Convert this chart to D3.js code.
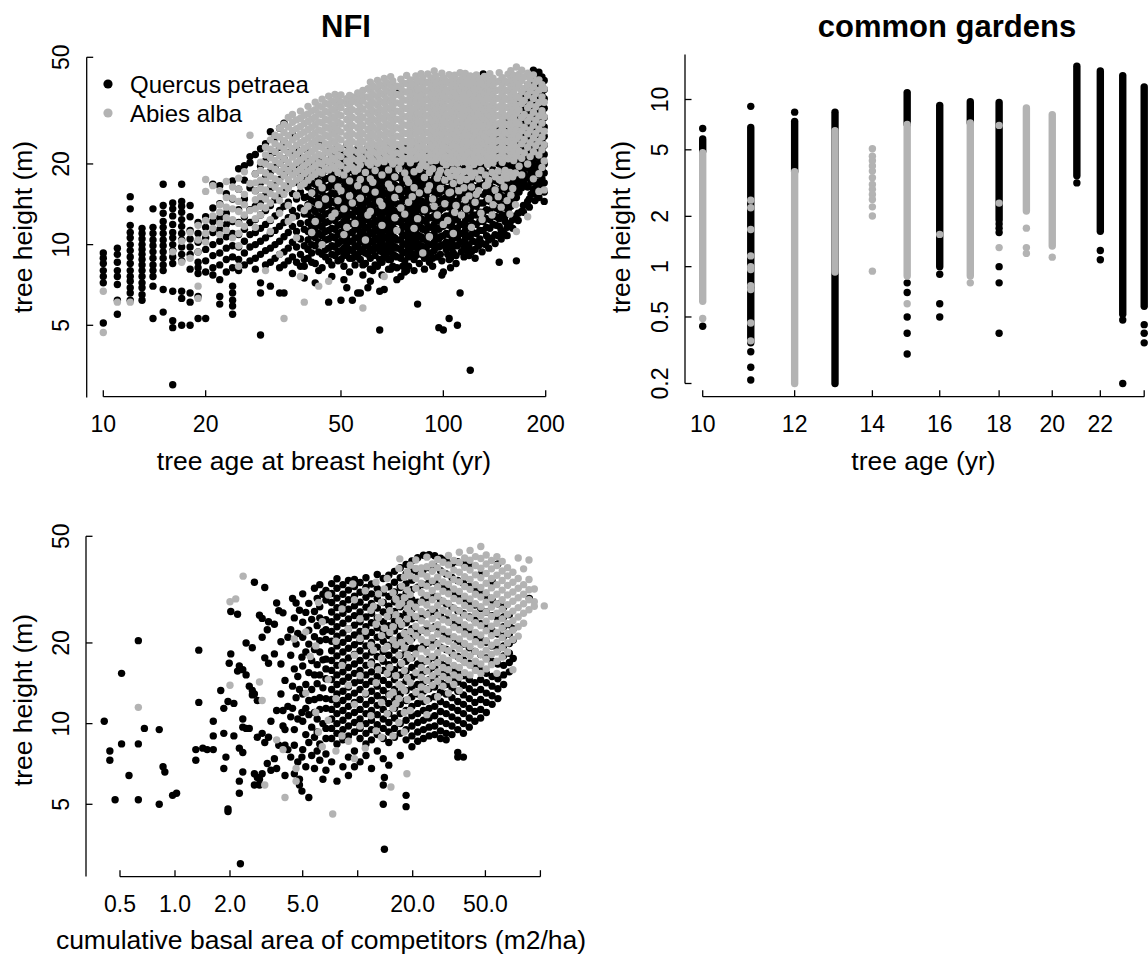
<!doctype html>
<html lang="en">

<head>
  <meta charset="UTF-8" />
  <script src="https://cdn.jsdelivr.net/npm/d3@7"></script>
  <style>
    body { margin: 0; background: #fff; }
    text { font-family: "Liberation Sans", Arial, Helvetica, sans-serif; fill: #000; }
    .axis-line { stroke: #000; stroke-width: 1.3; fill: none; }
    .tick-label { font-size: 23px; text-anchor: middle; }
    .axis-title { font-size: 26.5px; text-anchor: middle; }
    .main-title { font-size: 31px; font-weight: bold; text-anchor: middle; }
  </style>
  <title>tree height</title>
</head>

<body>
  <script>
    // ---- NFI, height vs age: [age, [heights...]] ----
    var nfiQuercusByAge = [
      [10, [9.3, 8.9, 8.5, 8.0, 7.6, 7.2, 5.1]],
      [11, [9.7, 9.2, 8.6, 8.0, 7.6, 7.1, 6.2, 5.5]],
      [12, [15.1, 13.6, 11.8, 11.1, 10.6, 10.0, 9.5, 9.0, 8.5, 8.0, 7.6, 7.3, 6.9, 6.6, 6.2]],
      [13, [11.5, 11.0, 10.5, 10.0, 9.6, 9.2, 8.8, 8.4, 8.0, 7.6, 7.2, 6.9, 6.5, 6.2]],
      [14, [13.6, 11.6, 11.0, 10.4, 9.9, 9.4, 8.9, 8.4, 8.0, 7.6, 7.0, 5.3]],
      [15, [16.8, 14.0, 13.1, 12.2, 11.6, 11.0, 10.4, 9.9, 9.4, 8.9, 8.4, 8.0, 6.8, 5.6]],
      [16, [14.3, 13.6, 12.8, 11.9, 11.1, 10.6, 10.0, 9.5, 9.0, 8.5, 6.7, 5.2, 4.9, 3.0]],
      [17, [16.8, 14.5, 13.9, 13.2, 12.4, 11.7, 11.0, 10.4, 9.8, 9.2, 8.7, 6.7, 6.3, 5.0]],
      [18, [14.0, 12.7, 11.3, 10.5, 9.8, 9.2, 8.1, 6.6, 6.1, 5.0]],
      [19, [12.1, 11.0, 10.2, 9.4, 8.6, 8.2, 7.8, 6.4, 5.3]],
      [20, [12.7, 11.6, 10.6, 9.6, 8.7, 7.9, 5.3]],
      [21, [16.8, 13.7, 12.2, 11.1, 10.0, 9.1, 8.2, 7.7]],
      [22, [16.6, 14.2, 12.6, 11.4, 10.3, 9.3, 8.4, 7.4, 6.4, 6.0]],
      [23, [15.5, 13.1, 11.9, 10.7, 9.7, 8.8, 7.9]],
      [24, [17.3, 14.8, 12.2, 11.0, 9.9, 9.0, 8.2, 7.0, 6.6, 6.2, 5.9, 5.5]],
      [25, [19.2, 16.1, 13.5, 12.1, 10.9, 9.8, 8.8, 8.0]],
      [26, [19.7, 17.4, 14.8, 12.7, 11.4, 10.3, 9.3, 8.4]],
      [27, [21.3, 20.2, 16.3, 13.5, 12.1, 10.9, 9.8, 8.7]],
      [28, [21.7, 18.4, 15.9, 13.9, 12.4, 11.1, 10.0, 8.9, 8.1]],
      [29, [22.8, 19.6, 17.0, 14.5, 12.9, 11.5, 10.3, 9.2, 7.2, 6.6, 4.6]],
      [30, [23.8, 20.5, 17.8, 15.3, 13.4, 11.9, 10.6, 9.5, 8.4]],
      [31, [26.4, 21.4, 18.7, 16.2, 14.0, 12.3, 11.0, 9.7, 8.6, 7.0]],
      [32, [25.1, 22.1, 19.4, 16.9, 14.7, 12.8, 11.3, 10.0, 8.9]],
      [33, [27.2, 23.1, 20.1, 17.5, 15.3, 13.4, 11.7, 10.3, 9.2, 8.2, 6.6]],
      [34, [28.4, 24.2, 20.9, 18.2, 15.9, 13.9, 12.1, 10.7, 9.4, 8.4, 6.6]],
      [35, [22.1, 19.1, 16.6, 14.4, 12.6, 11.1, 9.7, 8.7]],
      [36, [25.8, 21.4, 18.3, 15.5, 13.4, 11.7, 10.2, 9.0, 7.8]],
      [37, [23.0, 19.9, 17.1, 14.8, 12.8, 11.2, 9.8, 8.6]],
      [38, [21.1, 18.1, 15.7, 13.7, 12.0, 10.5, 9.2, 8.3]],
      [39, [20.0, 17.4, 15.0, 13.0, 11.4, 9.9, 8.8, 8.3, 7.5]],
      [40, [22.3, 20.5, 19.1, 17.6, 16.4, 15.1, 14.1, 13.0, 12.1, 11.2, 10.4, 9.6, 8.9]],
      [41, [19.8, 18.3, 17.0, 15.8, 14.6, 13.6, 12.6, 11.7, 10.8, 10.0, 9.3, 8.6]],
      [42, [21.0, 19.5, 18.0, 16.8, 15.5, 14.4, 13.3, 12.4, 11.5, 10.6, 9.9, 8.5, 7.2]],
      [43, [24.1, 20.2, 18.8, 17.3, 16.1, 14.9, 13.8, 12.8, 11.9, 11.0, 10.2, 9.4, 8.0]],
      [44, [21.4, 19.7, 18.3, 16.9, 15.7, 14.5, 13.5, 12.5, 11.6, 10.8, 10.0, 9.2, 8.2]],
      [45, [20.5, 19.0, 17.6, 16.3, 15.1, 14.0, 13.0, 12.1, 11.2, 10.4, 9.6, 9.0]],
      [46, [22.2, 20.6, 19.1, 17.7, 16.4, 15.2, 14.1, 13.1, 12.2, 11.3, 10.5, 9.7, 8.7, 6.1]],
      [47, [21.3, 19.6, 18.2, 16.9, 15.6, 14.5, 13.4, 12.4, 11.5, 10.7, 9.9, 9.2, 8.4, 7.6]],
      [48, [22.6, 20.9, 19.4, 17.9, 16.6, 15.4, 14.3, 13.3, 12.3, 11.4, 10.6, 9.8, 9.1]],
      [49, [20.1, 18.6, 17.3, 16.0, 14.8, 13.7, 12.7, 11.8, 10.9, 10.1, 9.4, 8.7]],
      [50, [21.8, 20.2, 18.7, 17.4, 16.1, 14.9, 13.9, 12.9, 11.9, 11.1, 10.3, 9.5, 8.8, 6.2]],
      [51, [20.8, 19.3, 17.9, 16.5, 15.3, 14.2, 13.2, 12.2, 11.3, 10.5, 9.7, 9.1, 8.3, 7.4]],
      [52, [23.6, 21.6, 20.0, 18.5, 17.1, 15.9, 14.7, 13.6, 12.6, 11.7, 10.8, 10.0, 9.3, 6.9]],
      [53, [20.6, 19.0, 17.6, 16.3, 15.1, 14.0, 13.0, 12.0, 11.1, 10.3, 9.6, 8.9, 7.9]],
      [54, [22.1, 20.5, 18.9, 17.5, 16.2, 15.0, 13.9, 12.9, 12.0, 11.1, 10.3, 9.5, 8.9, 6.2]],
      [55, [21.2, 19.6, 18.2, 16.8, 15.6, 14.4, 13.4, 12.4, 11.5, 10.6, 9.9, 9.2, 8.4]],
      [56, [22.8, 21.0, 19.5, 18.0, 16.7, 15.5, 14.3, 13.3, 12.3, 11.4, 10.6, 9.8, 9.0, 6.6]],
      [57, [20.3, 18.8, 17.4, 16.1, 14.9, 13.8, 12.8, 11.9, 11.0, 10.2, 9.4, 8.8, 6.6]],
      [58, [22.4, 20.7, 19.2, 17.7, 16.4, 15.2, 14.1, 13.1, 12.1, 11.2, 10.4, 9.6, 8.4, 7.7]],
      [59, [21.5, 19.9, 18.4, 17.1, 15.8, 14.6, 13.5, 12.5, 11.6, 10.8, 10.0, 9.3, 8.5]],
      [60, [23.0, 21.2, 19.6, 18.2, 16.8, 15.6, 14.4, 13.4, 12.4, 11.5, 10.7, 9.9, 9.2, 6.9]],
      [61, [20.5, 19.0, 17.6, 16.3, 15.1, 14.0, 13.0, 12.0, 11.1, 10.3, 9.6, 8.9, 8.1, 7.3]],
      [62, [22.0, 20.3, 18.8, 17.4, 16.1, 14.9, 13.8, 12.8, 11.9, 11.0, 10.2, 9.5, 8.0]],
      [63, [21.1, 19.5, 18.1, 16.7, 15.5, 14.3, 13.3, 12.3, 11.4, 10.6, 9.8, 9.1, 8.4]],
      [64, [22.7, 21.0, 19.4, 18.0, 16.6, 15.4, 14.3, 13.2, 12.2, 11.3, 10.5, 9.7, 8.3]],
      [65, [20.4, 18.9, 17.5, 16.2, 15.0, 13.9, 12.9, 11.9, 11.0, 10.2, 9.5, 8.8, 6.7, 4.8]],
      [66, [21.9, 20.2, 18.7, 17.3, 16.0, 14.8, 13.7, 12.7, 11.8, 10.9, 10.1, 9.4, 8.6, 7.7]],
      [67, [21.2, 19.6, 18.1, 16.8, 15.5, 14.4, 13.3, 12.3, 11.4, 10.6, 9.8, 9.0, 6.8]],
      [68, [23.0, 21.3, 19.7, 18.2, 16.9, 15.6, 14.5, 13.4, 12.4, 11.5, 10.7, 9.9, 9.2]],
      [69, [20.6, 19.1, 17.7, 16.4, 15.2, 14.1, 13.0, 12.1, 11.2, 10.4, 9.6, 8.8, 8.1]],
      [70, [22.2, 20.5, 19.0, 17.6, 16.3, 15.1, 14.0, 12.9, 12.0, 11.1, 10.3, 9.5, 8.8, 8.1]],
      [71, [21.4, 19.8, 18.3, 17.0, 15.7, 14.5, 13.5, 12.5, 11.6, 10.7, 9.9, 9.2, 8.3]],
      [72, [22.9, 21.1, 19.5, 18.1, 16.7, 15.5, 14.4, 13.3, 12.3, 11.4, 10.6, 9.8, 9.1]],
      [73, [20.8, 19.3, 17.8, 16.5, 15.3, 14.2, 13.1, 12.2, 11.3, 10.4, 9.7, 9.0, 8.2, 7.4]],
      [74, [37.5]],
      [75, [22.3, 20.6, 19.1, 17.7, 16.4, 15.2, 14.1, 13.0, 12.1, 11.2, 10.4, 9.6, 8.9, 7.6]],
      [76, [21.5, 19.9, 18.4, 17.0, 15.8, 14.6, 13.5, 12.5, 11.6, 10.8, 10.0, 9.3, 8.3]],
      [77, [8.7, 7.9]],
      [78, [23.6, 21.8, 20.2, 18.7, 17.3, 16.0, 14.8, 13.7, 12.7, 11.8, 10.9, 10.1, 9.4, 8.0]],
      [79, [21.0, 19.4, 18.0, 16.6, 15.4, 14.3, 13.2, 12.2, 11.3, 10.5, 9.7, 9.0, 8.3]],
      [80, [36.8, 22.5, 20.8, 19.2, 17.8, 16.5, 15.3, 14.1, 13.1, 12.1, 11.2, 10.4, 9.6]],
      [81, [21.6, 20.0, 18.5, 17.1, 15.8, 14.7, 13.6, 12.6, 11.6, 10.8, 10.0, 9.2]],
      [82, [8.8, 8.0]],
      [83, [22.8, 21.1, 19.5, 18.0, 16.7, 15.5, 14.3, 13.3, 12.3, 11.4, 10.5, 9.8, 9.1]],
      [84, [21.9, 20.3, 18.8, 17.4, 16.1, 14.9, 13.8, 12.7, 11.8, 10.9, 10.1, 9.4, 6.0]],
      [85, [8.5]],
      [86, [23.2, 21.5, 19.9, 18.4, 17.0, 15.8, 14.6, 13.5, 12.5, 11.6, 10.7, 9.9, 9.2]],
      [87, [21.1, 19.5, 18.1, 16.7, 15.5, 14.3, 13.3, 12.3, 11.4, 10.5, 9.8]],
      [88, [8.9, 8.1]],
      [89, [22.6, 20.9, 19.4, 17.9, 16.6, 15.4, 14.2, 13.2, 12.2, 11.3, 10.4, 9.7, 9.0]],
      [90, [21.7, 20.1, 18.6, 17.2, 15.9, 14.7, 13.6, 12.6, 11.7, 10.8, 10.0, 9.3]],
      [91, [8.6]],
      [92, [23.4, 21.6, 20.0, 18.5, 17.1, 15.9, 14.7, 13.6, 12.6, 11.6, 10.8, 10.0, 9.3]],
      [93, [8.9, 8.3]],
      [94, [22.1, 20.4, 18.9, 17.5, 16.2, 15.0, 13.9, 12.8, 11.9, 11.0, 10.2, 9.5]],
      [95, [21.3, 19.7, 18.2, 16.9, 15.6, 14.4, 13.4, 12.4, 11.5, 10.6, 9.8]],
      [96, [9.0]],
      [97, [22.9, 21.2, 19.6, 18.1, 16.8, 15.5, 14.4, 13.3, 12.3, 11.4, 10.5, 9.8, 4.9]],
      [98, [21.6, 20.0, 18.5, 17.1, 15.8, 14.6, 13.5, 12.5, 11.6, 10.7, 9.9, 9.2]],
      [99, [8.7, 7.7]],
      [100, [23.5, 21.8, 20.1, 18.6, 17.2, 15.9, 14.8, 13.7, 12.6, 11.7, 10.8, 10.0, 7.9, 4.8]],
      [102, [22.0, 20.4, 18.9, 17.5, 16.2, 15.0, 13.9, 12.8, 11.9, 11.0, 10.2, 9.6]],
      [103, [9.2]],
      [104, [23.8, 22.0, 20.3, 18.8, 17.4, 16.1, 14.9, 13.8, 12.8, 11.8, 10.9, 10.1, 8.8, 5.3]],
      [105, [8.9, 8.2]],
      [106, [22.6, 20.9, 19.3, 17.9, 16.5, 15.3, 14.2, 13.1, 12.1, 11.2, 10.4, 9.7]],
      [107, [9.3]],
      [108, [21.4, 19.8, 18.3, 17.0, 15.7, 14.5, 13.4, 12.4, 11.5, 10.6, 9.9]],
      [109, [9.1, 8.5]],
      [110, [23.1, 21.4, 19.8, 18.3, 16.9, 15.7, 14.5, 13.4, 12.4, 11.5, 10.6, 9.9, 5.0]],
      [112, [22.2, 20.5, 19.0, 17.6, 16.3, 15.0, 13.9, 12.9, 11.9, 11.0, 10.2, 6.6]],
      [113, [9.4]],
      [114, [24.0, 22.2, 20.5, 19.0, 17.6, 16.3, 15.1, 13.9, 12.9, 11.9, 11.0, 10.2]],
      [115, [9.7, 9.0]],
      [116, [22.8, 21.1, 19.5, 18.1, 16.7, 15.5, 14.3, 13.2, 12.2, 11.3, 10.5]],
      [117, [9.5]],
      [118, [21.7, 20.1, 18.6, 17.2, 15.9, 14.7, 13.6, 12.6, 11.7, 10.8, 10.0]],
      [119, [9.8, 9.1]],
      [120, [23.4, 21.6, 20.0, 18.5, 17.1, 15.8, 14.6, 13.5, 12.5, 11.6, 10.7, 3.4]],
      [121, [9.4]],
      [122, [40.5, 22.3, 20.6, 19.1, 17.7, 16.4, 15.1, 14.0, 12.9, 12.0, 11.1, 10.3]],
      [124, [9.6, 8.9]],
      [125, [24.1, 22.3, 20.6, 19.1, 17.6, 16.3, 15.1, 13.9, 12.9, 11.9, 11.0, 10.2]],
      [127, [9.9]],
      [128, [22.9, 21.2, 19.6, 18.1, 16.7, 15.5, 14.3, 13.2, 12.2, 11.3, 10.5]],
      [130, [10.1, 9.4]],
      [131, [43.3, 24.7, 22.8, 21.1, 19.5, 18.0, 16.7, 15.4, 14.3, 13.2, 12.2, 11.3]],
      [133, [10.0]],
      [134, [23.4, 21.6, 20.0, 18.5, 17.1, 15.8, 14.6, 13.5, 12.5, 11.6, 10.8]],
      [136, [10.4, 9.7]],
      [137, [25.2, 23.3, 21.5, 19.9, 18.4, 17.0, 15.7, 14.5, 13.4, 12.4, 11.5]],
      [139, [10.6]],
      [140, [26.8, 24.0, 22.2, 20.5, 19.0, 17.5, 16.2, 15.0, 13.9, 12.8, 11.9]],
      [142, [10.9, 10.1]],
      [143, [25.6, 23.7, 21.9, 20.2, 18.7, 17.3, 16.0, 14.8, 13.7, 12.7, 11.8]],
      [145, [10.8]],
      [146, [27.4, 25.3, 23.4, 21.6, 20.0, 18.5, 17.1, 15.8, 14.6, 13.5, 12.5, 11.7, 8.6]],
      [148, [11.3, 10.5]],
      [149, [26.2, 24.2, 22.4, 20.7, 19.1, 17.7, 16.3, 15.1, 14.0, 12.9]],
      [151, [11.0]],
      [152, [28.0, 25.9, 23.9, 22.1, 20.4, 18.9, 17.5, 16.1, 14.9, 13.8, 12.8, 12.2]],
      [154, [11.6, 10.8]],
      [155, [29.2, 27.0, 25.0, 23.1, 21.3, 19.7, 18.2, 16.8, 15.6, 14.4, 13.4]],
      [157, [12.0]],
      [158, [30.6, 28.2, 26.1, 24.1, 22.3, 20.6, 19.0, 17.6, 16.2, 15.0, 13.9]],
      [160, [12.4, 11.5]],
      [161, [31.6, 29.2, 27.0, 24.9, 23.0, 21.3, 19.7, 18.2, 16.8, 15.5, 14.3]],
      [163, [12.8]],
      [164, [33.0, 30.5, 28.2, 26.0, 24.0, 22.2, 20.5, 19.0, 17.5, 16.2, 15.0, 8.7]],
      [166, [13.1, 12.3]],
      [167, [34.5, 31.9, 29.5, 27.2, 25.2, 23.3, 21.5, 19.9, 18.4, 17.0, 15.7]],
      [170, [36.0, 33.3, 30.7, 28.4, 26.2, 24.2, 22.4, 20.7, 19.1, 17.6, 16.3, 13.3]],
      [172, [14.0, 13.2]],
      [173, [37.2, 34.3, 31.7, 29.3, 27.1, 25.0, 23.1, 21.4, 19.8, 18.3, 16.9]],
      [177, [39.4, 36.4, 33.6, 31.0, 28.7, 26.5, 24.5, 22.6, 20.9, 19.3, 17.8, 16.4, 14.5]],
      [179, [14.8, 13.8]],
      [181, [41.0, 37.8, 35.0, 32.3, 29.8, 27.5, 25.4, 23.5, 21.7, 20.1, 18.5, 17.1, 15.4]],
      [184, [44.8, 39.2, 36.2, 33.4, 30.9, 28.5, 26.3, 24.3, 22.5, 20.8, 19.2, 17.7, 16.1]],
      [186, [15.5, 14.6]],
      [188, [43.5, 40.2, 37.1, 34.3, 31.7, 29.3, 27.0, 25.0, 23.1, 21.3, 19.7, 18.2, 16.8]],
      [191, [44.0, 41.2, 38.0, 35.1, 32.4, 29.9, 27.6, 25.5, 23.6, 21.8, 20.1, 18.6, 17.1, 15.0]],
      [195, [42.2, 39.0, 36.0, 33.3, 30.7, 28.4, 26.2, 24.2, 22.4, 20.7, 19.1, 17.6, 16.2]],
      [198, [41.0, 37.9, 35.0, 32.3, 29.8, 27.5, 25.4, 23.5, 21.7, 20.0, 18.5, 17.0, 15.7, 14.5]]
    ];

    var nfiAbiesByAge = [
      [10, [6.7, 4.7]], [11, [6.1]], [12, [6.1]], [16, [9.4]], [17, [8.6, 10.3]],
      [18, [11.1, 8.9]], [19, [11.8, 10.4, 9.4, 7.0, 6.3]],
      [20, [17.5, 15.8, 12.3, 11.0, 10.2]],
      [21, [16.6, 12.8, 11.5]],
      [22, [15.9, 14.1, 13.2, 12.0, 10.9]],
      [23, [17.2, 15.0, 13.8, 12.6, 11.3]],
      [24, [16.4, 14.9, 13.6, 12.4, 10.6]],
      [25, [17.7, 16.1, 14.5, 13.3, 12.0, 11.0, 9.9, 8.3]],
      [26, [18.7, 15.4, 14.1, 12.9, 11.7]],
      [27, [25.6, 16.9, 13.4]],
      [28, [18.4, 17.0, 15.9, 14.7, 13.6, 12.5, 11.6]],
      [29, [20.3, 18.9, 17.4, 16.2, 15.1, 13.9, 12.9]],
      [30, [23.1, 21.6, 20.0, 18.5, 17.3, 16.0, 14.8, 13.7, 8.0]],
      [31, [24.6, 22.7, 21.1, 19.6, 18.0, 16.8, 15.5, 14.3, 12.4, 11.2]],
      [32, [25.6, 23.8, 22.2, 20.6, 19.1, 17.6, 16.4, 15.2]],
      [33, [27.2, 25.2, 23.3, 21.5, 20.1, 18.7, 17.2, 15.9, 14.6, 13.1, 9.2]],
      [34, [28.1, 26.2, 24.4, 22.6, 20.9, 19.4, 18.1, 16.6, 15.4, 5.3]],
      [35, [29.8, 27.5, 25.5, 23.7, 22.0, 20.3, 18.9, 17.5, 16.2, 14.0, 12.2]],
      [36, [30.6, 28.6, 26.6, 24.6, 22.8, 21.2, 19.6, 18.2, 16.9, 12.6]],
      [37, [29.2, 27.1, 25.2, 23.5, 21.7, 20.2, 18.7, 17.4, 15.3, 10.6]],
      [38, [31.5, 29.6, 27.6, 25.8, 24.0, 22.3, 20.7, 19.1, 17.8, 16.5, 7.6]],
      [39, [30.4, 28.3, 26.3, 24.5, 22.9, 21.2, 19.7, 18.4, 16.9, 13.4, 6.1]],
      [40, [32.8, 30.7, 28.8, 26.9, 25.0, 23.3, 21.7, 20.2, 18.8, 17.4, 13.9]],
      [41, [31.5, 29.4, 27.4, 25.6, 23.9, 22.2, 20.7, 19.2, 17.9, 15.6, 11.1]],
      [42, [34.0, 31.9, 29.9, 28.0, 26.1, 24.4, 22.8, 21.2, 19.7, 18.3, 12.2]],
      [43, [32.9, 30.8, 28.7, 26.8, 25.0, 23.3, 21.7, 20.2, 18.8, 17.0, 14.1, 7.0]],
      [44, [34.9, 32.6, 30.5, 28.5, 26.5, 24.8, 23.1, 21.5, 20.0, 18.5, 16.3, 10.0]],
      [45, [33.6, 31.4, 29.3, 27.4, 25.6, 23.8, 22.2, 20.7, 19.2, 14.8]],
      [46, [35.8, 33.4, 31.2, 29.1, 27.2, 25.3, 23.6, 22.0, 20.4, 19.0, 7.3]],
      [47, [34.4, 32.1, 30.0, 28.0, 26.2, 24.4, 22.7, 21.1, 19.6, 17.6, 12.7]],
      [48, [36.3, 33.9, 31.7, 29.6, 27.6, 25.8, 24.0, 22.4, 20.8, 19.3, 13.1]],
      [49, [35.1, 32.8, 30.6, 28.6, 26.7, 24.9, 23.2, 21.6, 20.1, 18.6, 16.4, 14.6]],
      [50, [36.2, 34.1, 32.4, 30.3, 28.2, 26.3, 24.6, 22.9, 21.3, 19.7, 15.9]],
      [51, [18.2, 13.6, 10.9]],
      [52, [35.0, 33.6, 31.4, 29.3, 27.3, 25.5, 23.8, 22.1, 20.5, 19.1, 11.6]],
      [53, [36.0, 34.4, 33.0, 30.8, 28.7, 26.8, 25.0, 23.3, 21.7, 20.1, 17.3, 15.2]],
      [54, [35.6, 34.2, 31.9, 29.8, 27.8, 25.9, 24.2, 22.5, 20.9, 19.4, 14.3]],
      [55, [18.8, 12.0]],
      [56, [36.8, 35.1, 33.7, 31.4, 29.3, 27.3, 25.5, 23.8, 22.1, 20.6, 19.1, 16.6]],
      [57, [36.3, 34.8, 32.5, 30.3, 28.3, 26.4, 24.6, 22.9, 21.3, 19.8, 17.5, 14.9]],
      [58, [37.6, 35.8, 34.3, 32.0, 29.8, 27.8, 25.9, 24.2, 22.5, 20.9, 5.8]],
      [59, [18.6, 16.1, 10.4]],
      [60, [38.2, 35.6, 33.2, 31.0, 28.9, 26.9, 25.1, 23.4, 21.8, 20.2, 12.9]],
      [61, [40.4, 37.6, 35.0, 32.6, 30.4, 28.4, 26.4, 24.6, 22.9, 21.3, 19.8, 17.6, 13.3]],
      [62, [39.0, 36.3, 33.9, 31.6, 29.4, 27.4, 25.6, 23.8, 22.2, 20.6, 17.1]],
      [63, [18.9, 15.7]],
      [64, [41.0, 38.2, 35.6, 33.2, 30.9, 28.8, 26.8, 25.0, 23.3, 21.7, 20.1]],
      [65, [39.6, 36.9, 34.4, 32.0, 29.9, 27.8, 25.9, 24.1, 22.5, 20.9, 14.5]],
      [66, [18.2, 14.0, 11.8]],
      [67, [41.7, 38.8, 36.2, 33.7, 31.4, 29.3, 27.3, 25.4, 23.6, 22.0, 20.4, 7.6]],
      [68, [40.2, 37.5, 34.9, 32.5, 30.3, 28.2, 26.3, 24.5, 22.8, 21.2]],
      [69, [19.0, 16.8]],
      [70, [42.3, 39.4, 36.7, 34.2, 31.9, 29.7, 27.7, 25.8, 24.0, 22.3, 20.7, 16.3]],
      [71, [40.8, 38.0, 35.4, 33.0, 30.7, 28.6, 26.7, 24.8, 23.1, 21.5, 20.0]],
      [72, [17.9, 15.0, 12.6]],
      [73, [39.0, 36.3, 33.8, 31.5, 29.4, 27.3, 25.4, 23.7, 22.0, 20.5, 11.3]],
      [74, [19.2, 16.1]],
      [75, [41.4, 38.6, 35.9, 33.5, 31.2, 29.0, 27.0, 25.2, 23.4, 21.8, 20.3, 13.7]],
      [76, [40.0, 37.3, 34.7, 32.3, 30.1, 28.0, 26.1, 24.3, 22.6, 21.0]],
      [77, [18.5, 13.0]],
      [78, [42.8, 39.9, 37.1, 34.6, 32.2, 30.0, 27.9, 26.0, 24.2, 22.5, 20.9, 17.6]],
      [79, [17.1, 14.4]],
      [80, [41.2, 38.4, 35.7, 33.3, 31.0, 28.9, 26.9, 25.0, 23.3, 21.7, 20.2]],
      [81, [39.6, 36.9, 34.4, 32.0, 29.8, 27.8, 25.9, 24.1, 22.4, 20.8, 15.1]],
      [82, [18.7, 16.3, 11.5]],
      [83, [42.6, 39.7, 37.0, 34.4, 32.0, 29.8, 27.8, 25.9, 24.1, 22.4, 20.9]],
      [84, [41.0, 38.2, 35.5, 33.1, 30.8, 28.7, 26.7, 24.8, 23.1, 21.5, 12.5]],
      [85, [19.1, 15.6]],
      [86, [43.4, 40.4, 37.6, 35.0, 32.6, 30.4, 28.3, 26.3, 24.5, 22.8, 21.2, 19.7]],
      [87, [41.8, 38.9, 36.2, 33.7, 31.4, 29.2, 27.2, 25.3, 23.6, 22.0, 20.4, 9.3]],
      [88, [17.8, 13.5]],
      [89, [40.2, 37.4, 34.8, 32.4, 30.2, 28.1, 26.2, 24.4, 22.7, 21.1, 19.6]],
      [90, [43.3, 40.3, 37.5, 35.0, 32.6, 30.3, 28.2, 26.3, 24.5, 22.8, 21.2, 16.0]],
      [91, [18.6, 16.6, 10.7]],
      [92, [41.9, 39.0, 36.3, 33.8, 31.5, 29.3, 27.3, 25.4, 23.6, 22.0, 20.5]],
      [93, [19.2, 14.8]],
      [94, [44.5, 40.6, 37.8, 35.2, 32.8, 30.5, 28.4, 26.4, 24.6, 22.9, 21.3, 13.9]],
      [95, [42.6, 39.3, 36.6, 34.0, 31.7, 29.5, 27.5, 25.6, 23.8, 22.2, 20.6]],
      [96, [17.7, 12.9]],
      [97, [41.0, 38.1, 35.5, 33.0, 30.7, 28.6, 26.6, 24.8, 23.1, 21.5, 18.3]],
      [98, [18.9, 16.2]],
      [99, [43.6, 40.1, 37.3, 34.7, 32.3, 30.1, 28.0, 26.1, 24.3, 22.6, 21.0]],
      [100, [42.0, 38.8, 36.1, 33.6, 31.3, 29.1, 27.1, 25.2, 23.5, 21.8, 20.3, 11.9]],
      [101, [17.4, 14.2]],
      [102, [40.6, 37.8, 35.2, 32.7, 30.5, 28.4, 26.4, 24.6, 22.9, 21.3, 19.8]],
      [103, [18.6, 12.3]],
      [104, [43.1, 40.0, 37.2, 34.6, 32.2, 30.0, 27.9, 26.0, 24.2, 22.5, 20.9, 15.6]],
      [105, [17.9, 15.7]],
      [106, [41.5, 38.6, 35.9, 33.4, 31.1, 28.9, 26.9, 25.1, 23.4, 21.7, 20.2]],
      [107, [19.0, 16.9, 11.0]],
      [108, [42.9, 39.6, 36.9, 34.3, 31.9, 29.7, 27.6, 25.7, 23.9, 22.3, 20.7, 13.2]],
      [109, [18.1, 14.0]],
      [110, [41.2, 38.3, 35.7, 33.2, 30.9, 28.7, 26.7, 24.9, 23.2, 21.6, 20.1]],
      [111, [18.9, 15.9]],
      [112, [43.8, 40.5, 37.7, 35.1, 32.6, 30.4, 28.3, 26.3, 24.5, 22.8, 21.2, 17.3]],
      [113, [17.8, 12.9]],
      [114, [42.0, 39.0, 36.3, 33.8, 31.4, 29.2, 27.2, 25.3, 23.6, 21.9, 20.4]],
      [115, [18.7, 16.3]],
      [116, [43.5, 40.2, 37.4, 34.8, 32.4, 30.1, 28.0, 26.1, 24.3, 22.6, 21.0, 14.7]],
      [117, [17.5, 13.6]],
      [118, [41.4, 38.5, 35.8, 33.3, 31.0, 28.9, 26.9, 25.0, 23.3, 21.7, 20.2]],
      [119, [19.2, 15.2]],
      [120, [42.6, 39.6, 36.8, 34.3, 31.9, 29.7, 27.6, 25.7, 23.9, 22.2, 20.7, 18.6]],
      [121, [17.9, 16.4, 11.6]],
      [123, [41.0, 38.1, 35.5, 33.0, 30.7, 28.6, 26.6, 24.7, 23.0, 21.4, 19.9]],
      [124, [18.5, 14.4]],
      [125, [43.0, 39.9, 37.1, 34.5, 32.1, 29.9, 27.8, 25.9, 24.1, 22.4, 20.8, 15.4]],
      [127, [17.6, 15.9]],
      [128, [41.6, 38.7, 36.0, 33.5, 31.2, 29.0, 27.0, 25.1, 23.4, 21.8, 20.3]],
      [129, [18.9, 13.1]],
      [130, [40.2, 37.4, 34.8, 32.4, 30.1, 28.0, 26.1, 24.3, 22.6, 21.0, 12.4]],
      [132, [42.4, 39.4, 36.7, 34.1, 31.7, 29.5, 27.5, 25.6, 23.8, 22.1, 20.6]],
      [133, [18.2, 16.6]],
      [135, [41.0, 38.1, 35.5, 33.0, 30.7, 28.6, 26.6, 24.7, 23.0, 21.4, 19.9, 16.8]],
      [136, [17.4, 14.8]],
      [137, [43.4, 40.3, 37.5, 34.9, 32.5, 30.2, 28.1, 26.1, 24.3, 22.6, 21.0]],
      [139, [18.6, 12.9]],
      [140, [41.8, 38.9, 36.2, 33.7, 31.3, 29.1, 27.1, 25.2, 23.4, 21.8, 20.2, 14.1]],
      [142, [17.9, 16.0]],
      [143, [40.4, 37.6, 35.0, 32.5, 30.2, 28.1, 26.1, 24.3, 22.6, 21.0]],
      [145, [18.8, 15.1]],
      [146, [43.8, 40.7, 37.8, 35.2, 32.7, 30.4, 28.3, 26.3, 24.5, 22.8, 21.2, 17.5]],
      [148, [17.3, 13.8]],
      [149, [42.0, 39.1, 36.4, 33.8, 31.4, 29.2, 27.2, 25.3, 23.5, 21.9, 20.3]],
      [151, [18.2, 16.4]],
      [152, [40.6, 37.7, 35.1, 32.6, 30.3, 28.2, 26.2, 24.4, 22.7, 21.1, 18.9]],
      [154, [17.7, 14.6]],
      [155, [43.2, 40.2, 37.4, 34.8, 32.4, 30.1, 28.0, 26.0, 24.2, 22.5, 20.9]],
      [157, [18.6, 13.0]],
      [158, [44.6, 41.6, 38.7, 36.0, 33.5, 31.1, 28.9, 26.9, 25.0, 23.2, 21.6, 15.3]],
      [160, [17.9, 16.2]],
      [161, [42.8, 39.8, 37.0, 34.4, 32.0, 29.8, 27.7, 25.7, 23.9, 22.2, 20.6]],
      [163, [18.5, 14.1]],
      [164, [46.0, 41.3, 38.4, 35.7, 33.2, 30.9, 28.7, 26.7, 24.8, 23.1, 21.4, 11.2]],
      [167, [43.2, 39.3, 35.4, 31.8, 28.2, 25.4, 22.3, 19.6]],
      [170, [44.8, 41.0, 37.2, 33.6, 29.8, 26.6, 23.8, 21.0, 18.2]],
      [173, [42.3, 38.3, 34.5, 30.6, 27.4, 24.7, 22.0]],
      [177, [43.6, 39.6, 36.1, 32.4, 28.9, 25.9, 23.1, 20.0, 12.7]],
      [180, [41.5, 37.5, 33.3, 29.9, 26.8, 24.0, 21.3]],
      [184, [43.0, 38.8, 35.1, 31.2, 27.9, 25.0, 22.2, 17.6]],
      [187, [40.6, 36.6, 32.7, 29.1, 26.0, 23.4]],
      [191, [41.2, 37.7, 33.9, 30.2, 27.0, 24.3, 21.6, 18.4, 15.8]],
      [195, [39.5, 35.6, 31.6, 28.4, 25.2, 22.6, 19.4]],
      [198, [38.2, 34.0, 30.0, 26.5, 23.6, 20.5, 16.0]]
    ];

    // ---- common gardens: dense columns [age, lowest, highest] and single trees [age, height] ----
    var gardenQuercusRanges = [
      [10, 4.9, 5.8], [11, 0.35, 6.8], [12, 3.7, 7.4], [13, 0.2, 8.4], [15, 7.1, 11.0],
      [16, 1.0, 9.2], [17, 7.25, 9.7], [18, 1.9, 9.6], [21, 3.5, 15.8], [22, 1.63, 14.8],
      [23, 0.52, 13.9], [24, 0.58, 11.9]
    ];
    var gardenQuercusTrees = [
      [10, 6.7], [10, 0.44], [11, 9.1], [11, 0.31], [11, 0.25], [11, 0.21], [12, 8.4],
      [15, 0.8], [15, 0.7], [15, 0.5], [15, 0.4], [15, 0.3], [16, 0.9], [16, 0.6], [16, 0.5],
      [18, 1.8], [18, 1.7], [18, 1.6], [18, 1.0], [18, 0.8], [18, 0.4], [21, 3.17],
      [22, 1.25], [22, 1.1], [23, 0.48], [23, 0.2], [24, 0.45], [24, 0.4], [24, 0.35]
    ];
    var gardenAbiesRanges = [
      [10, 0.62, 4.8], [12, 0.2, 3.7], [13, 0.93, 6.5], [15, 0.88, 7.1], [17, 0.88, 7.25],
      [19, 2.15, 8.9], [20, 1.33, 8.1]
    ];
    var gardenAbiesTrees = [
      [10, 0.49], [11, 2.5], [11, 2.25], [11, 1.67], [11, 1.16], [11, 1.0], [11, 0.96],
      [11, 0.77], [11, 0.73], [11, 0.46], [11, 0.36],
      [14, 5.07], [14, 4.58], [14, 4.3], [14, 4.0], [14, 3.73], [14, 3.4], [14, 3.1], [14, 2.9],
      [14, 2.7], [14, 2.52], [14, 2.28], [14, 2.01], [14, 0.94],
      [15, 0.6], [16, 1.56], [17, 0.8], [18, 7.0], [18, 2.4], [18, 1.3],
      [19, 1.7], [19, 1.3], [19, 1.2], [20, 1.14]
    ];

    // ---- NFI, height vs competition: [basal area, [heights...]] ----
    var competQuercus = [
      [0.41, [10.2]], [0.44, [7.9, 7.3]], [0.47, [5.2]], [0.51, [15.4, 8.4]], [0.56, [6.4]],
      [0.63, [20.4, 8.4, 5.2]], [0.68, [9.6]], [0.82, [9.5, 5.0]], [0.86, [6.9]], [0.88, [6.6]],
      [0.97, [5.4]], [1.02, [5.5]], [1.3, [8.0, 7.3]], [1.35, [18.8, 12.0]], [1.42, [8.1]],
      [1.5, [8.0]], [1.62, [10.2, 9.0, 8.0]], [1.78, [13.3]], [1.85, [11.4, 9.2, 6.8]],
      [1.9, [7.5]], [1.95, [4.8, 4.7, 12.1]], [1.98, [16.8]], [2.02, [26.2, 18.2]],
      [2.1, [11.9, 9.0]], [2.2, [25.6, 15.7]], [2.25, [5.5, 8.1, 6.1, 16.4]], [2.28, [3.0]],
      [2.35, [10.4, 7.8, 6.6, 15.9, 9.7]], [2.45, [20.0, 9.6, 15.2]], [2.55, [9.6, 13.8]],
      [2.65, [19.2, 13.3, 12.8]], [2.72, [33.7, 12.9, 6.5, 5.9]], [2.82, [12.2, 6.3, 8.9]],
      [2.9, [25.4, 6.2, 5.9]], [3.0, [24.7, 21.0, 6.5, 9.2]], [3.1, [32.2, 17.6, 8.5]],
      [3.2, [22.4, 7.1]], [3.25, [8.9, 16.8, 24.0]], [3.35, [10.2, 6.7]],
      [3.5, [7.4, 18.2, 23.5]], [3.6, [6.8, 28.2, 11.2]], [3.7, [26.4, 8.3]],
      [3.8, [16.7, 20.2, 12.9]], [3.9, [11.2, 9.8, 25.9]], [4.0, [6.4, 9.5, 8.3, 14.5]],
      [4.15, [21.0, 11.6, 8.0]], [4.3, [18.0, 22.4, 10.6, 7.5]], [4.4, [29.3, 11.4, 13.8]],
      [4.5, [9.5, 8.3, 24.8, 16.0, 6.5]], [4.6, [28.2, 19.8, 12.5]],
      [4.7, [7.2, 10.4, 21.7, 15.0]], [4.8, [5.9, 6.2, 13.4, 26.5]], [4.95, [7.5, 5.6, 17.7, 11.0]],
      [5.0, [30.5, 23.9, 21.0, 16.4, 12.9, 10.2, 8.0]],
      [5.2, [26.0, 18.5, 14.0, 11.4, 9.1, 6.9]],
      [5.4, [28.1, 22.3, 19.8, 15.5, 12.2, 10.8, 8.5, 5.3]],
      [5.6, [24.5, 17.2, 13.4, 9.7, 7.6]],
      [5.8, [32.0, 26.2, 21.1, 18.9, 15.2, 12.3, 11.0, 8.9, 6.8]],
      [6.0, [29.3, 23.2, 16.6, 14.1, 10.4, 9.3, 7.9]],
      [6.2, [33.0, 27.3, 24.8, 20.4, 18.5, 15.2, 12.5, 11.3, 8.4, 7.3]],
      [6.45, [30.4, 22.0, 17.3, 13.6, 10.0, 6.2]],
      [6.7, [31.4, 28.9, 24.4, 22.4, 20.6, 17.4, 16.0, 14.7, 12.4, 11.4, 9.6, 8.8, 7.7, 6.7]],
      [7.2, [33.3, 30.6, 28.3, 26.1, 24.0, 22.1, 20.3, 18.7, 17.2, 15.8, 14.6, 13.4, 12.3, 11.3, 10.4, 9.6, 8.8, 7.2]],
      [7.7, [34.7, 32.0, 29.4, 27.1, 25.0, 23.0, 21.2, 19.5, 17.9, 16.5, 15.2, 14.0, 12.9, 11.8, 10.9, 10.0, 9.2, 8.4, 6.1]],
      [8.3, [33.0, 30.4, 28.0, 25.8, 23.7, 21.8, 20.1, 18.5, 17.0, 15.6, 14.4, 13.2, 12.2, 11.2, 10.3, 9.5, 8.7, 6.9]],
      [8.9, [34.2, 31.5, 29.0, 26.7, 24.6, 22.6, 20.8, 19.1, 17.6, 16.2, 14.9, 13.7, 12.6, 11.6, 10.7, 9.8, 9.0, 7.5, 6.4]],
      [9.6, [34.5, 32.5, 29.9, 27.5, 25.3, 23.3, 21.4, 19.7, 18.1, 16.7, 15.4, 14.2, 13.0, 12.0, 11.0, 10.1, 9.3, 7.9, 6.9]],
      [10.3, [33.6, 30.9, 28.4, 26.1, 24.0, 22.1, 20.3, 18.7, 17.2, 15.8, 14.5, 13.4, 12.3, 11.3, 10.4, 9.6, 8.8, 7.2]],
      [11.1, [35.0, 32.2, 29.6, 27.2, 25.0, 23.0, 21.2, 19.5, 17.9, 16.5, 15.2, 14.0, 12.9, 11.8, 10.9, 10.0, 9.2, 8.4, 7.6]],
      [11.9, [33.2, 30.5, 28.1, 25.8, 23.8, 21.9, 20.1, 18.5, 17.0, 15.6, 14.4, 13.2, 12.2, 11.2, 10.3, 9.5, 8.7, 6.8]],
      [12.8, [36.0, 31.9, 29.3, 27.0, 24.8, 22.8, 21.0, 19.3, 17.8, 16.3, 15.0, 13.8, 12.7, 11.7, 10.8, 9.9, 9.1, 7.9]],
      [13.8, [34.8, 30.8, 28.3, 26.1, 24.0, 22.0, 20.3, 18.6, 17.1, 15.8, 14.5, 13.3, 12.3, 11.3, 10.4, 9.6, 8.8, 7.4, 5.9, 5.0]],
      [14.0, [6.3, 3.4]],
      [14.8, [35.8, 32.4, 29.8, 27.4, 25.2, 23.2, 21.3, 19.6, 18.0, 16.6, 15.3, 14.0, 12.9, 11.9, 10.9, 10.1, 9.3, 8.5, 7.0]],
      [15.9, [37.0, 33.7, 31.0, 28.5, 26.2, 24.1, 22.2, 20.4, 18.8, 17.3, 15.9, 14.6, 13.4, 12.4, 11.4, 10.5, 9.6, 8.9]],
      [17.1, [38.2, 35.0, 32.2, 29.6, 27.3, 25.1, 23.1, 21.2, 19.5, 18.0, 16.5, 15.2, 14.0, 12.9, 11.8, 10.9, 10.0, 9.2, 7.6]],
      [18.4, [39.3, 36.2, 33.3, 30.6, 28.2, 25.9, 23.8, 21.9, 20.2, 18.6, 17.1, 15.7, 14.4, 13.3, 12.2, 11.2, 10.3, 9.5, 8.7, 5.4, 4.9]],
      [19.8, [40.5, 37.3, 34.3, 31.6, 29.0, 26.7, 24.6, 22.6, 20.8, 19.1, 17.6, 16.2, 14.9, 13.7, 12.6, 11.6, 10.7, 9.8, 9.0, 8.2]],
      [21.3, [41.6, 36.8, 32.3, 28.4, 24.9, 21.8, 19.1, 16.7, 15.2, 14.0, 12.9, 11.9, 10.9, 10.1, 9.3, 8.6]],
      [22.9, [42.5, 37.6, 33.0, 29.0, 25.4, 22.3, 19.5, 17.0, 15.6, 14.3, 13.2, 12.1, 11.2, 10.3, 9.5, 8.8]],
      [24.6, [42.7, 38.2, 33.6, 29.5, 25.9, 22.7, 19.9, 17.4, 15.9, 14.6, 13.5, 12.4, 11.4, 10.5, 9.7, 9.0]],
      [26.4, [42.3, 38.5, 33.9, 29.8, 26.2, 23.0, 20.1, 17.6, 16.2, 14.9, 13.7, 12.6, 11.6, 10.7, 9.8, 9.1]],
      [28.4, [41.4, 37.2, 32.7, 28.7, 25.2, 22.1, 19.3, 16.9, 15.5, 14.3, 13.1, 12.1, 11.1, 10.2, 9.4, 8.8]],
      [30.5, [40.8, 36.2, 31.9, 28.0, 24.6, 21.6, 18.9, 16.5, 15.2, 14.0, 12.9, 11.8, 10.9, 10.0, 9.2, 8.7]],
      [32.8, [39.5, 35.1, 30.9, 27.1, 23.8, 20.9, 18.3, 16.0, 14.8, 13.6, 12.5, 11.5, 10.6, 9.8, 9.1]],
      [35.3, [40.2, 34.2, 30.1, 26.4, 23.2, 20.3, 17.8, 15.5, 14.3, 13.2, 12.1, 11.2, 10.3, 9.5, 7.8, 7.5]],
      [37.9, [39.6, 33.4, 29.3, 25.7, 22.6, 19.8, 17.3, 15.1, 13.9, 12.8, 11.8, 10.9, 10.0, 9.2, 7.5]],
      [40.8, [38.9, 32.5, 28.5, 25.0, 21.9, 19.2, 16.8, 14.6, 13.5, 12.4, 11.4, 10.5, 9.7]],
      [43.8, [31.6, 27.7, 24.3, 21.3, 18.6, 16.3, 14.2, 13.1, 12.0, 11.1, 10.2]],
      [47.1, [36.0, 30.7, 26.9, 23.6, 20.7, 18.1, 15.8, 14.6, 13.4, 12.3, 11.3, 10.5]],
      [50.6, [29.8, 26.1, 22.9, 20.1, 17.6, 15.4, 14.2, 13.0, 12.0, 11.0]],
      [54.4, [34.0, 28.9, 25.3, 22.2, 19.5, 17.1, 15.0, 13.8, 12.7, 11.8]],
      [58.5, [39.4, 28.0, 24.6, 21.6, 19.0, 16.7, 14.7, 13.5, 12.4]],
      [62.9, [27.2, 25.0, 23.0, 21.2, 19.5, 17.9, 16.5, 15.2, 14.0]],
      [67.6, [25.5, 23.4, 21.6, 19.9, 18.3, 16.9, 15.6]],
      [71.0, [22.6, 20.5, 17.5]],
      [87.0, [29.3]]
    ];

    var competAbies = [
      [0.63, [11.5]], [2.0, [28.5, 13.9]], [2.15, [29.2]], [2.36, [35.5]], [2.9, [14.3]],
      [3.0, [12.2]], [3.1, [5.9]], [3.6, [8.7]], [3.9, [8.0]], [4.0, [5.3]], [4.5, [20.7]],
      [4.6, [6.8, 6.1]], [5.2, [22.0, 13.0]], [5.5, [17.8]], [5.9, [19.5, 11.0]],
      [6.1, [28.3, 9.3]], [6.4, [24.0, 8.2]], [6.9, [30.2, 14.6, 10.3]], [7.3, [4.6]],
      [7.6, [20.3, 12.4, 7.9]], [8.2, [26.8, 16.5, 9.0]], [8.9, [22.6, 13.9, 8.6]],
      [9.4, [33.2]], [9.6, [29.0, 18.0, 11.8, 7.4]], [10.3, [24.6, 20.8, 15.1, 9.8]],
      [11.0, [31.3, 22.1, 13.0, 8.1]], [11.8, [26.5, 19.6, 16.7, 10.7]],
      [12.2, [27.4, 18.8]], [12.6, [33.7, 23.5, 14.2, 9.4]], [13.0, [24.9, 15.9, 30.5]],
      [13.5, [28.4, 21.3, 17.5, 12.0, 8.9]], [14.0, [22.7, 19.0, 31.8]],
      [14.5, [34.8, 25.1, 19.4, 15.4, 10.9]], [15.0, [26.4, 21.9, 16.2, 12.8]], [15.2, [5.8]],
      [15.6, [30.8, 23.0, 20.5, 13.1, 11.4, 9.0]], [16.2, [29.1, 25.5, 19.7, 15.1, 11.9]],
      [16.8, [37.9, 27.6, 24.2, 18.0, 14.0, 12.4, 10.1]], [17.0, [41.2]],
      [17.4, [32.6, 28.1, 23.4, 20.1, 16.8, 13.7]],
      [18.0, [35.2, 29.5, 21.7, 19.2, 15.8, 13.3, 11.0, 9.3]], [18.6, [6.5]],
      [18.7, [36.9, 31.5, 26.9, 24.6, 20.8, 18.1, 14.8, 12.3]],
      [19.4, [39.0, 35.6, 30.3, 28.0, 25.9, 22.1, 20.4, 17.5, 14.2, 11.2]],
      [20.8, [40.8, 37.9, 34.8, 32.0, 27.2, 25.1, 23.1, 21.3, 18.2, 15.5, 13.1]],
      [22.3, [38.1, 36.2, 33.4, 30.8, 28.4, 26.2, 24.2, 22.3, 20.6, 19.0, 17.5, 16.2, 14.9, 13.7, 12.6]],
      [23.9, [41.8, 38.5, 35.4, 32.6, 30.1, 27.7, 25.6, 23.6, 21.8, 20.1, 18.5, 17.1, 15.7, 14.5, 13.4, 12.2, 10.8]],
      [25.6, [39.4, 37.0, 34.1, 31.4, 29.0, 26.7, 24.6, 22.7, 20.9, 19.3, 17.8, 16.4, 15.1, 13.9]],
      [27.4, [41.0, 38.2, 35.2, 32.4, 29.9, 27.6, 25.4, 23.4, 21.6, 19.9, 18.4, 16.9, 15.6, 14.4, 12.6]],
      [29.3, [40.0, 36.7, 33.8, 31.2, 28.7, 26.5, 24.4, 22.5, 20.7, 19.1, 17.6, 16.2, 15.0, 13.8]],
      [31.4, [42.4, 39.1, 35.9, 33.1, 30.5, 28.1, 25.9, 23.9, 22.0, 20.3, 18.7, 17.2, 15.9, 14.6, 13.0]],
      [33.6, [40.6, 37.4, 34.5, 31.8, 29.3, 27.0, 24.9, 22.9, 21.1, 19.5, 18.0, 16.5, 15.2, 14.0]],
      [36.0, [43.6, 39.9, 36.7, 33.8, 31.1, 28.7, 26.4, 24.3, 22.4, 20.7, 19.0, 17.5, 16.2, 14.9, 13.3]],
      [38.5, [41.5, 38.3, 35.3, 32.5, 29.9, 27.6, 25.4, 23.4, 21.6, 19.9, 18.3, 16.9, 15.5]],
      [41.2, [44.3, 40.7, 37.4, 34.5, 31.7, 29.2, 26.9, 24.8, 22.9, 21.1, 19.4, 17.9, 16.5, 15.2]],
      [44.1, [42.0, 38.9, 35.9, 33.0, 30.4, 28.0, 25.8, 23.8, 21.9, 20.2, 18.6, 17.1, 15.8]],
      [47.2, [45.8, 41.3, 38.0, 35.0, 32.2, 29.7, 27.3, 25.2, 23.2, 21.4, 19.7, 18.1, 16.7, 15.4]],
      [50.5, [42.6, 39.4, 36.3, 33.4, 30.8, 28.4, 26.1, 24.1, 22.2, 20.4, 18.8, 17.4, 16.0]],
      [54.0, [40.6, 37.8, 34.8, 32.1, 29.5, 27.2, 25.1, 23.1, 21.3, 19.6, 18.1, 16.6]],
      [57.8, [42.0, 38.9, 35.8, 33.0, 30.4, 28.0, 25.8, 23.7, 21.9, 20.1, 18.5, 17.1, 15.4]],
      [61.8, [40.3, 37.1, 34.2, 31.5, 29.0, 26.7, 24.6, 22.7, 20.9, 19.2, 17.7]],
      [66.1, [38.2, 35.6, 32.8, 30.2, 27.8, 25.6, 23.6, 21.7, 20.0, 18.5]],
      [70.7, [36.7, 33.7, 31.0, 28.6, 26.3, 24.2, 22.3, 20.6, 15.9]],
      [75.6, [41.5, 34.8, 32.0, 29.5, 27.1, 25.0, 23.0, 21.2]],
      [80.9, [37.8, 33.0, 30.4, 28.0, 25.8, 23.7]],
      [86.6, [40.8, 34.5, 31.6, 29.0, 26.6]],
      [92.6, [31.8, 28.5, 27.4]],
      [105.0, [27.5]]
    ];

    var ageTicks = [10, 20, 50, 100, 200];
    var heightTicks = [5, 10, 20, 50];
    var gardenAgeTicks = [10, 12, 14, 16, 18, 20, 22, 24];
    var gardenAgeLabels = ["10", "12", "14", "16", "18", "20", "22", ""];
    var gardenHeightTicks = [0.2, 0.5, 1, 2, 5, 10];
    var gardenHeightLabels = ["0.2", "0.5", "1", "2", "5", "10"];
    var basalTicks = [0.5, 1, 2, 5, 10, 20, 50, 100];
    var basalLabels = ["0.5", "1.0", "2.0", "5.0", "", "20.0", "50.0", ""];
    var speciesNames = ["Quercus petraea", "Abies alba"];
    var speciesColors = ["#000000", "#b3b3b3"];

    var R = 3.7;

    var svg = d3.select("body").append("svg")
      .attr("width", 1148).attr("height", 961);

    function flatten(cols) {
      var pts = [];
      cols.forEach(function (c) {
        c[1].forEach(function (h) { pts.push([c[0], h]); });
      });
      return pts;
    }

    function drawPoints(pts, x, y, color) {
      svg.append("g").selectAll("circle").data(pts).enter().append("circle")
        .attr("cx", function (d) { return x(d[0]); })
        .attr("cy", function (d) { return y(d[1]); })
        .attr("r", R)
        .attr("fill", color);
    }

    function drawRanges(ranges, x, y, color) {
      svg.append("g").selectAll("line").data(ranges).enter().append("line")
        .attr("x1", function (d) { return x(d[0]); })
        .attr("x2", function (d) { return x(d[0]); })
        .attr("y1", function (d) { return y(d[1]); })
        .attr("y2", function (d) { return y(d[2]); })
        .attr("stroke", color)
        .attr("stroke-width", 2 * R)
        .attr("stroke-linecap", "round");
    }

    // R style axes, ticks pointing into the plot
    function drawXAxis(x, ticks, labels, y0) {
      var g = svg.append("g");
      g.append("line").attr("class", "axis-line")
        .attr("x1", x(ticks[0])).attr("x2", x(ticks[ticks.length - 1]))
        .attr("y1", y0).attr("y2", y0);
      g.selectAll(null).data(ticks).enter().append("line").attr("class", "axis-line")
        .attr("x1", function (d) { return x(d); })
        .attr("x2", function (d) { return x(d); })
        .attr("y1", y0).attr("y2", y0 - 6.5);
      g.selectAll(null).data(ticks).enter().append("text").attr("class", "tick-label")
        .attr("x", function (d) { return x(d); })
        .attr("y", y0 + 35)
        .text(function (d, i) { return labels[i]; });
    }

    function drawYAxis(y, ticks, labels, x0, lo, hi) {
      var g = svg.append("g");
      g.append("line").attr("class", "axis-line")
        .attr("x1", x0).attr("x2", x0)
        .attr("y1", y(lo)).attr("y2", y(hi));
      g.selectAll(null).data(ticks).enter().append("line").attr("class", "axis-line")
        .attr("x1", x0).attr("x2", x0 + 6.5)
        .attr("y1", function (d) { return y(d); })
        .attr("y2", function (d) { return y(d); });
      g.selectAll(null).data(ticks).enter().append("text").attr("class", "tick-label")
        .attr("transform", function (d) { return "translate(" + (x0 - 25.7) + "," + y(d) + ") rotate(-90)"; })
        .attr("dy", "0.36em")
        .text(function (d, i) { return labels[i]; });
    }

    function axisTitles(xText, cx, by, yText, bx, cy) {
      svg.append("text").attr("class", "axis-title")
        .attr("x", cx).attr("y", by).text(xText);
      svg.append("text").attr("class", "axis-title")
        .attr("transform", "translate(" + bx + "," + cy + ") rotate(-90)")
        .text(yText);
    }

    // ---------- panel 1: NFI height ~ age ----------
    var x1 = d3.scaleLog().domain([10, 200]).range([103.3, 545.7]);
    var y1 = d3.scaleLog().domain([5, 50]).range([325.3, 57.3]);

    drawPoints(flatten(nfiQuercusByAge), x1, y1, speciesColors[0]);
    drawPoints(flatten(nfiAbiesByAge), x1, y1, speciesColors[1]);
    drawXAxis(x1, ageTicks, ageTicks.map(String), 396.7);
    drawYAxis(y1, heightTicks, heightTicks.map(String), 86.7, 2.69, 50);
    axisTitles("tree age at breast height (yr)", 324, 470, "tree height (m)", 32, 227);
    svg.append("text").attr("class", "main-title").attr("x", 346).attr("y", 37).text("NFI");

    var legend = svg.append("g").selectAll("g").data(speciesNames).enter().append("g")
      .attr("transform", function (d, i) { return "translate(108," + (84 + i * 29) + ")"; });
    legend.append("circle").attr("r", 4.6)
      .attr("fill", function (d, i) { return speciesColors[i]; });
    legend.append("text").attr("x", 22).attr("y", 8.8)
      .style("font-size", "24px").text(function (d) { return d; });

    // ---------- panel 2: common gardens ----------
    var x2 = d3.scaleLog().domain([10, 24]).range([702.7, 1144.2]);
    var y2 = d3.scaleLog().domain([0.2, 10]).range([383.5, 99.5]);

    drawRanges(gardenQuercusRanges, x2, y2, speciesColors[0]);
    drawPoints(gardenQuercusTrees, x2, y2, speciesColors[0]);
    drawRanges(gardenAbiesRanges, x2, y2, speciesColors[1]);
    drawPoints(gardenAbiesTrees, x2, y2, speciesColors[1]);
    drawXAxis(x2, gardenAgeTicks, gardenAgeLabels, 396.7);
    drawYAxis(y2, gardenHeightTicks, gardenHeightLabels, 685, 0.2, 18.6);
    axisTitles("tree age (yr)", 923.5, 470, "tree height (m)", 630.3, 227);
    svg.append("text").attr("class", "main-title").attr("x", 947).attr("y", 37).text("common gardens");

    // ---------- panel 3: NFI height ~ competition ----------
    var x3 = d3.scaleLog().domain([0.5, 50]).range([120, 485.4]);
    var y3 = d3.scaleLog().domain([5, 50]).range([804.3, 536.3]);

    drawPoints(flatten(competQuercus), x3, y3, speciesColors[0]);
    drawPoints(flatten(competAbies), x3, y3, speciesColors[1]);
    drawXAxis(x3, basalTicks, basalLabels, 876.7);
    drawYAxis(y3, heightTicks, heightTicks.map(String), 86, 2.69, 50);
    axisTitles("cumulative basal area of competitors (m2/ha)", 321, 949, "tree height (m)", 32, 700);
  </script>
</body>

</html>
